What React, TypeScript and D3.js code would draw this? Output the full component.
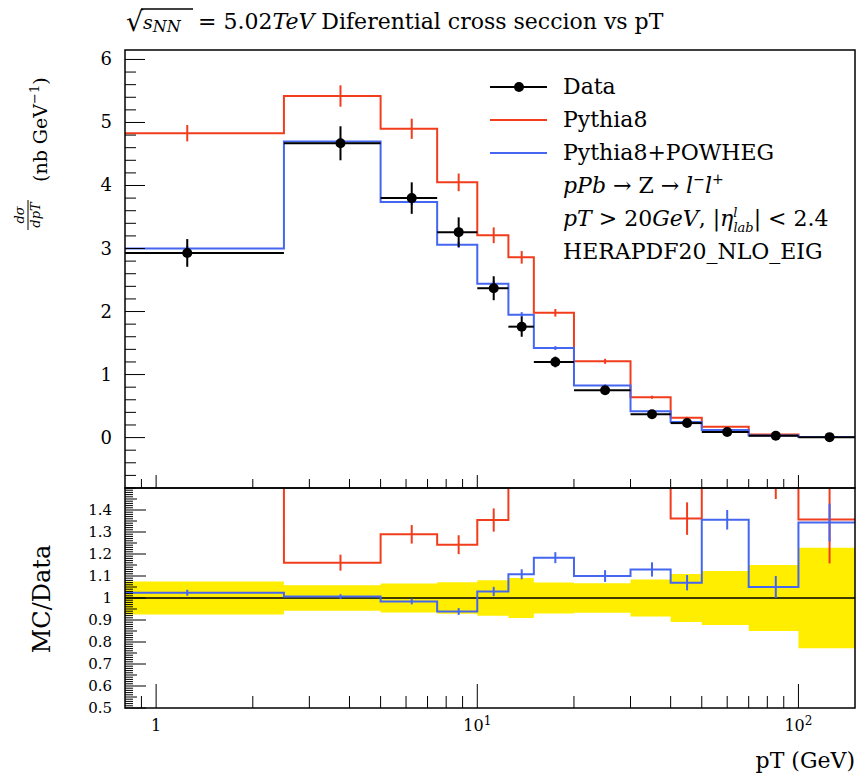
import * as d3 from "d3";

// pT bins (GeV); the first bin starts at 0 and is clipped by the log axis
const binEdges = [0, 2.5, 5, 7.5, 10, 12.5, 15, 20, 30, 40, 50, 70, 100, 150];

const dataVals = [2.93, 4.67, 3.8, 3.26, 2.37, 1.76, 1.2, 0.75, 0.37, 0.23, 0.09, 0.03, 0.007];
const dataErr = [0.22, 0.27, 0.25, 0.235, 0.19, 0.16, 0.085, 0.05, 0.031, 0.025, 0.011, 0.0045, 0.0016];

const pythia8 = [4.83, 5.42, 4.9, 4.05, 3.21, 2.86, 1.98, 1.21, 0.64, 0.313, 0.17, 0.048, 0.0095];
const pythia8Err = [0.13, 0.17, 0.16, 0.14, 0.125, 0.1, 0.06, 0.04, 0.025, 0.017, 0.01, 0.0045, 0.0014];

const powheg = [3.0, 4.7, 3.74, 3.06, 2.44, 1.95, 1.42, 0.825, 0.418, 0.246, 0.122, 0.0315, 0.0094];
const powhegErr = [0.04, 0.05, 0.05, 0.05, 0.05, 0.04, 0.03, 0.02, 0.012, 0.008, 0.004, 0.0015, 0.0006];

const topTicks = [0, 1, 2, 3, 4, 5, 6];
const ratioTicks = [0.5, 0.6, 0.7, 0.8, 0.9, 1, 1.1, 1.2, 1.3, 1.4];

const RED = "#f23d1c";
const BLUE = "#4466f0";
const YELLOW = "#ffee00";
const FONT = "DejaVu Serif";

const L = 125, R = 855, T = 50, MID = 488, B = 708;

export default function App() {
  const x = d3.scaleLog().domain([0.8, 150]).range([L, R]);
  const y = d3.scaleLinear().domain([-0.8, 6.15]).range([MID, T]);
  const yr = d3.scaleLinear().domain([0.5, 1.5]).range([B, MID]);

  const xs = (v: number) => x(Math.max(v, 0.8));
  const bins = dataVals.map((_, i) => ({
    lo: binEdges[i],
    hi: binEdges[i + 1],
    c: (binEdges[i] + binEdges[i + 1]) / 2,
  }));

  const step = (vals: number[], sy: d3.ScaleLinear<number, number>) =>
    d3
      .line<[number, number]>()
      .x((d) => xs(d[0]))
      .y((d) => sy(d[1]))(
      vals.flatMap((v, i) => [
        [bins[i].lo, v],
        [bins[i].hi, v],
      ] as [number, number][]),
    ) as string;

  const band = d3
    .area<[number, number]>()
    .x((d) => xs(d[0]))
    .y0((d) => yr(1 - d[1]))
    .y1((d) => yr(1 + d[1]))(
    dataVals.flatMap((v, i) => {
      const r = dataErr[i] / v;
      return [
        [bins[i].lo, r],
        [bins[i].hi, r],
      ] as [number, number][];
    }),
  ) as string;

  // log x ticks
  const xMajor = [1, 10, 100];
  const xMinor: number[] = [0.9];
  for (const d of [1, 10]) for (let k = 2; k <= 9; k++) xMinor.push(k * d);

  const yMinor = d3.range(-0.8, 6.15, 0.2).map((v) => +v.toFixed(1));
  const rMinor = d3.range(0.5, 1.5, 0.01).map((v) => +v.toFixed(2));
  const isStep = (v: number, n: number) => Math.abs(v * n - Math.round(v * n)) < 1e-6;

  const mcSeries = [
    { vals: pythia8, err: pythia8Err, color: RED },
    { vals: powheg, err: powhegErr, color: BLUE },
  ];

  return (
    <svg
      width={868}
      height={776}
      style={{ position: "absolute", left: 0, top: 0, background: "white" }}
      fontFamily={FONT}
    >
      <defs>
        <clipPath id="clipTop">
          <rect x={L} y={T} width={R - L} height={MID - T} />
        </clipPath>
        <clipPath id="clipRatio">
          <rect x={L} y={MID} width={R - L} height={B - MID} />
        </clipPath>
      </defs>

      {/* title */}
      <text x={126} y={31} fontSize={27}>
        √
      </text>
      <line x1={141} x2={193} y1={9} y2={9} stroke="black" strokeWidth={1.4} />
      <text y={29} fontSize={22}>
        <tspan x={143} fontStyle="italic" fontSize={19}>s</tspan>
        <tspan fontSize={16} dy={3} fontStyle="italic">NN</tspan>
        <tspan x={198} dy={-3}>= 5.02</tspan>
        <tspan fontStyle="italic">TeV</tspan>
        <tspan> Diferential cross seccion vs pT</tspan>
      </text>

      {/* upper panel */}
      <g clipPath="url(#clipTop)" fill="none" strokeWidth={2}>
        {mcSeries.map((s, k) => (
          <g key={k} stroke={s.color}>
            <path d={step(s.vals, y)} />
            {s.vals.map((v, i) => (
              <line
                key={i}
                x1={x(bins[i].c)}
                x2={x(bins[i].c)}
                y1={y(v - s.err[i])}
                y2={y(v + s.err[i])}
              />
            ))}
          </g>
        ))}
        <g stroke="black">
          {dataVals.map((v, i) => (
            <g key={i}>
              <line x1={xs(bins[i].lo)} x2={xs(bins[i].hi)} y1={y(v)} y2={y(v)} />
              <line
                x1={x(bins[i].c)}
                x2={x(bins[i].c)}
                y1={y(v - dataErr[i])}
                y2={y(v + dataErr[i])}
              />
              <circle cx={x(bins[i].c)} cy={y(v)} r={5} fill="black" stroke="none" />
            </g>
          ))}
        </g>
      </g>

      {/* ratio panel */}
      <g clipPath="url(#clipRatio)" fill="none" strokeWidth={2}>
        <path d={band} fill={YELLOW} stroke="none" />
        <line x1={L} x2={R} y1={yr(1)} y2={yr(1)} stroke="black" strokeWidth={1.5} />
        {mcSeries.map((s, k) => (
          <g key={k} stroke={s.color}>
            <path d={step(s.vals.map((v, i) => v / dataVals[i]), yr)} />
            {s.vals.map((v, i) => (
              <line
                key={i}
                x1={x(bins[i].c)}
                x2={x(bins[i].c)}
                y1={yr((v - s.err[i]) / dataVals[i])}
                y2={yr((v + s.err[i]) / dataVals[i])}
              />
            ))}
          </g>
        ))}
      </g>

      {/* frames */}
      <g fill="none" stroke="black" strokeWidth={1.5}>
        <rect x={L} y={T} width={R - L} height={MID - T} />
        <rect x={L} y={MID} width={R - L} height={B - MID} />
      </g>

      {/* upper y axis */}
      <g stroke="black" strokeWidth={1}>
        {yMinor.map((v) => (
          <line key={v} x1={L} x2={L + (Number.isInteger(v) ? 20 : 11)} y1={y(v)} y2={y(v)} />
        ))}
        {[...xMajor, ...xMinor].map((v) => (
          <line key={"u" + v} x1={x(v)} x2={x(v)} y1={MID} y2={MID - (xMajor.includes(v) ? 13 : 9)} />
        ))}
      </g>
      <g fontSize={18} textAnchor="end">
        {topTicks.map((v) => (
          <text key={v} x={112} y={y(v) + 6}>
            {v}
          </text>
        ))}
      </g>

      {/* ratio axes */}
      <g stroke="black" strokeWidth={1}>
        {rMinor.map((v) => (
          <line
            key={v}
            x1={L}
            x2={L + (isStep(v, 10) ? 21 : isStep(v, 20) ? 12 : 8)}
            y1={yr(v)}
            y2={yr(v)}
          />
        ))}
        {[...xMajor, ...xMinor].map((v) => (
          <line key={"b" + v} x1={x(v)} x2={x(v)} y1={B} y2={B - (xMajor.includes(v) ? 24 : 12)} />
        ))}
      </g>
      <g fontSize={15} textAnchor="end">
        {ratioTicks.map((v) => (
          <text key={v} x={112} y={yr(v) + 5}>
            {String(+v.toFixed(1))}
          </text>
        ))}
      </g>

      {/* x labels */}
      <g fontSize={16} textAnchor="middle">
        <text x={x(1)} y={731}>1</text>
        <text x={x(10)} y={731}>
          10<tspan fontSize={12} dy={-6}>1</tspan>
        </text>
        <text x={x(100)} y={731}>
          10<tspan fontSize={12} dy={-6}>2</tspan>
        </text>
      </g>
      <text x={855} y={768} fontSize={22} textAnchor="end">
        pT (GeV)
      </text>

      {/* y titles */}
      <g transform="translate(47,232) rotate(-90)">
        <text x={17} y={-23} fontSize={13} fontStyle="italic" textAnchor="middle">
          dσ
        </text>
        <line x1={2} x2={32} y1={-19} y2={-19} stroke="black" strokeWidth={1} />
        <text x={17} y={-7} fontSize={13} fontStyle="italic" textAnchor="middle">
          dpT
        </text>
        <text x={50} y={0} fontSize={19}>
          (nb GeV<tspan fontSize={13} dy={-8}>−1</tspan>
          <tspan dy={8}>)</tspan>
        </text>
      </g>
      <text transform="translate(50,599) rotate(-90)" fontSize={24} textAnchor="middle">
        MC/Data
      </text>

      {/* legend */}
      <g strokeWidth={2}>
        <line x1={490} x2={547} y1={87} y2={87} stroke="black" />
        <circle cx={519} cy={87} r={5} fill="black" />
        <line x1={490} x2={547} y1={120} y2={120} stroke={RED} />
        <line x1={490} x2={547} y1={153} y2={153} stroke={BLUE} />
      </g>
      <g fontSize={22}>
        <text x={563} y={94}>Data</text>
        <text x={563} y={127}>Pythia8</text>
        <text x={563} y={160}>Pythia8+POWHEG</text>
        <text x={563} y={193}>
          <tspan fontStyle="italic">pPb</tspan> → Z → <tspan fontStyle="italic">l</tspan>
          <tspan fontSize={14} dy={-9}>−</tspan>
          <tspan fontStyle="italic" dy={9}>l</tspan>
          <tspan fontSize={14} dy={-9}>+</tspan>
        </text>
        <text x={563} y={226}>
          <tspan fontStyle="italic">pT</tspan> &gt; 20<tspan fontStyle="italic">GeV</tspan>, |
          <tspan fontStyle="italic">η</tspan>
          <tspan fontSize={13} fontStyle="italic" dy={-9}>l</tspan>
          <tspan fontSize={13} fontStyle="italic" dx={-4} dy={15}>lab</tspan>
          <tspan dy={-6}>| &lt; 2.4</tspan>
        </text>
        <text x={563} y={259}>HERAPDF20_NLO_EIG</text>
      </g>
    </svg>
  );
}
